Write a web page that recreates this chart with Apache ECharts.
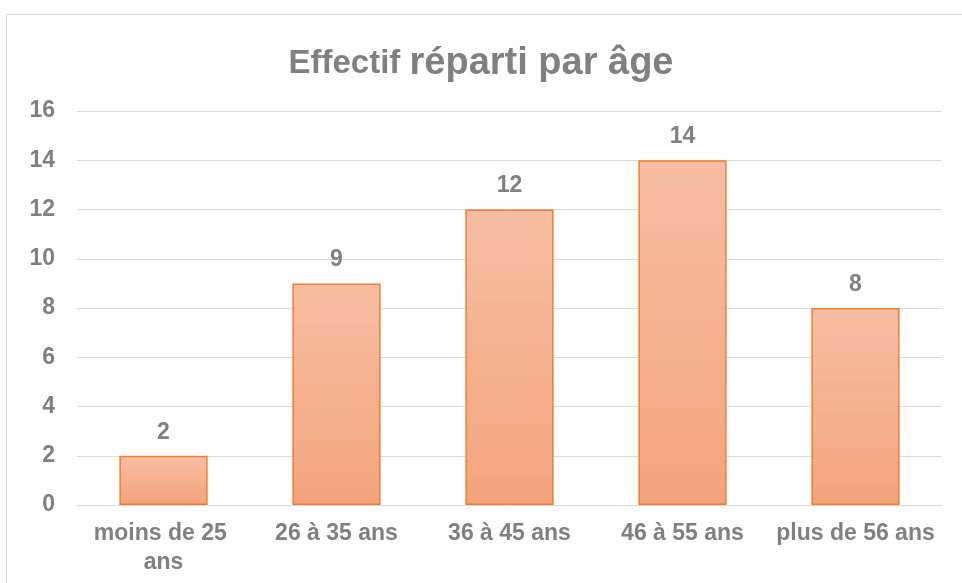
<!DOCTYPE html>
<html>
<head>
<meta charset="utf-8">
<script src="https://cdn.jsdelivr.net/npm/echarts@6/dist/echarts.min.js"></script>
<style>
  html, body { margin: 0; padding: 0; background: #fff; }
  #chart { width: 962px; height: 583px; }
</style>
</head>
<body>
<div id="chart"></div>
<script>
var categories = ['moins de 25 ans', '26 à 35 ans', '36 à 45 ans', '46 à 55 ans', 'plus de 56 ans'];
var effectif = [2, 9, 12, 14, 8];
var yTicks = [0, 2, 4, 6, 8, 10, 12, 14, 16];

var grey = '#808080';
var chart = echarts.init(document.getElementById('chart'));
chart.setOption({
  animation: false,
  textStyle: { fontFamily: 'Liberation Sans, Arial, sans-serif' },
  graphic: [{
    type: 'rect',
    shape: { x: 6.5, y: 14.5, width: 1000, height: 1000 },
    style: { fill: 'none', stroke: '#d9d9d9', lineWidth: 1 },
    silent: true
  }],
  title: {
    text: '{a|Effectif }{b|réparti par âge}',
    left: 'center',
    top: 40,
    textStyle: {
      rich: {
        a: { fontSize: 33, fontWeight: 'bold', color: grey, fontFamily: 'Liberation Sans, Arial, sans-serif' },
        b: { fontSize: 38, fontWeight: 'bold', color: grey, fontFamily: 'Liberation Sans, Arial, sans-serif' }
      }
    }
  },
  grid: { left: 77, right: 20, top: 111, bottom: 78, containLabel: false },
  xAxis: {
    type: 'category',
    data: categories,
    axisLine: { lineStyle: { color: '#d9d9d9', width: 1 } },
    axisTick: { show: false },
    axisLabel: {
      color: grey, fontSize: 23, fontWeight: 'bold', margin: 14,
      width: 170, overflow: 'break', lineHeight: 29, interval: 0
    }
  },
  yAxis: {
    type: 'value',
    min: yTicks[0],
    max: yTicks[yTicks.length - 1],
    interval: yTicks[1] - yTicks[0],
    axisLine: { show: false },
    axisTick: { show: false },
    axisLabel: { color: grey, fontSize: 23, fontWeight: 'bold', margin: 22 },
    splitLine: { lineStyle: { color: '#d9d9d9', width: 1 } }
  },
  series: [{
    type: 'bar',
    data: effectif,
    barWidth: '51%',
    itemStyle: {
      color: new echarts.graphic.LinearGradient(0, 0, 0, 1, [
        { offset: 0, color: '#f7bea3' },
        { offset: 1, color: '#f4a37b' }
      ]),
      borderColor: '#ed7d31',
      borderWidth: 1.5
    },
    label: {
      show: true,
      position: 'top',
      distance: 12,
      color: grey,
      fontSize: 23,
      fontWeight: 'bold'
    }
  }]
});
</script>
</body>
</html>
